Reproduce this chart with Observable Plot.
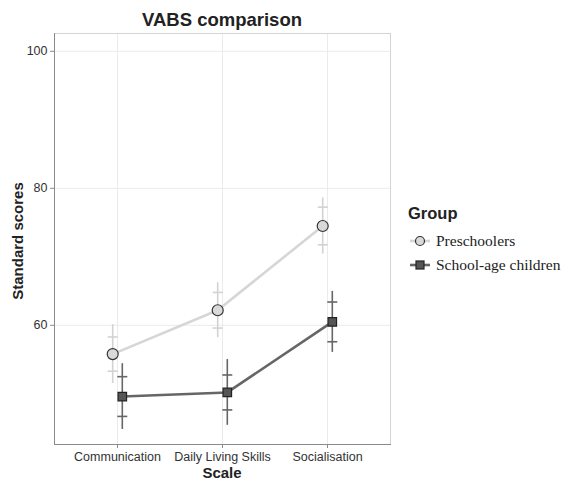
<!DOCTYPE html>
<html><head><meta charset="utf-8">
<script src="https://cdn.jsdelivr.net/npm/d3@7"></script>
<script src="https://cdn.jsdelivr.net/npm/@observablehq/plot@0.6"></script>
<style>
body{margin:0;background:#fff}
#wrap{position:relative;width:562px;height:483px}
</style></head><body><div id="wrap"></div>
<script>
const scales = ["Communication", "Daily Living Skills", "Socialisation"];
const groups = ["Preschoolers", "School-age children"];
const preschoolMean = [55.8, 62.2, 74.5];
const preschoolSE = [2.5, 2.6, 2.75];
const preschoolCI = [4.3, 4.0, 4.1];
const schoolMean = [49.6, 50.2, 60.5];
const schoolSE = [2.9, 2.55, 2.9];
const schoolCI = [4.8, 4.8, 4.45];
const yTicks = [60, 80, 100];
const yDomain = [42.6, 102.6];

const pre = scales.map((s, i) => ({scale: s, group: groups[0], mean: preschoolMean[i], se: preschoolSE[i], ci: preschoolCI[i]}));
const sch = scales.map((s, i) => ({scale: s, group: groups[1], mean: schoolMean[i], se: schoolSE[i], ci: schoolCI[i]}));

const capSymbol = {draw(ctx, size) { const r = Math.sqrt(size / Math.PI); ctx.moveTo(-r, 0); ctx.lineTo(r, 0); }};

const styles = {
  pre: {dx: -4.8, bar: "#d2d2d2", line: "#d6d6d6", fill: "#d9d9d9", stroke: "#333", symbol: "circle", r: 5.5},
  sch: {dx: 4.8, bar: "#666", line: "#666", fill: "#555", stroke: "#222", symbol: "square", r: 4.8}
};

function series(data, st) {
  return [
    Plot.ruleX(data, {x: "scale", y1: d => d.mean - d.ci, y2: d => d.mean + d.ci, dx: st.dx, stroke: st.bar, strokeWidth: 1.6}),
    Plot.dot(data, {x: "scale", y: d => d.mean + d.se, dx: st.dx, symbol: capSymbol, r: 5, fill: "none", stroke: st.bar, strokeWidth: 1.6}),
    Plot.dot(data, {x: "scale", y: d => d.mean - d.se, dx: st.dx, symbol: capSymbol, r: 5, fill: "none", stroke: st.bar, strokeWidth: 1.6}),
    Plot.line(data, {x: "scale", y: "mean", dx: st.dx, stroke: st.line, strokeWidth: 2.6}),
    Plot.dot(data, {x: "scale", y: "mean", dx: st.dx, symbol: st.symbol, r: st.r, fill: st.fill, stroke: st.stroke, strokeWidth: 1.2})
  ];
}

const svg = Plot.plot({
  width: 562, height: 483,
  marginLeft: 54, marginRight: 172, marginTop: 33, marginBottom: 39,
  style: {fontFamily: "'Liberation Sans', Arial, sans-serif", fontSize: "12.5px", background: "#fff"},
  x: {type: "point", domain: scales, padding: 0.6},
  y: {domain: yDomain},
  marks: [
    Plot.gridY(yTicks, {stroke: "#ebebeb", strokeOpacity: 1}),
    Plot.gridX(scales, {stroke: "#ebebeb", strokeOpacity: 1}),
    Plot.frame({stroke: "#d4d4d4"}),
    Plot.frame({anchor: "left", stroke: "#8a8a8a"}),
    Plot.frame({anchor: "bottom", stroke: "#8a8a8a"}),
    Plot.axisY(yTicks, {tickSize: 4, tickPadding: 3, stroke: "#8a8a8a", fill: "#333", label: null}),
    Plot.axisX(scales, {tickSize: 4, tickPadding: 4, stroke: "#8a8a8a", fill: "#333", label: null}),
    ...series(pre, styles.pre),
    ...series(sch, styles.sch)
  ]
});
document.getElementById("wrap").appendChild(svg);

const s = d3.select(svg);
const sans = "'Liberation Sans', Arial, sans-serif";
s.append("text").attr("x", 222).attr("y", 26).attr("text-anchor", "middle")
  .attr("font-family", sans).attr("font-size", 18.5).attr("font-weight", "bold").attr("fill", "#222").text("VABS comparison");
s.append("text").attr("x", 222).attr("y", 478).attr("text-anchor", "middle")
  .attr("font-family", sans).attr("font-size", 15).attr("font-weight", "bold").attr("fill", "#222").text("Scale");
s.append("text").attr("transform", "translate(23,241) rotate(-90)").attr("text-anchor", "middle")
  .attr("font-family", sans).attr("font-size", 15).attr("font-weight", "bold").attr("fill", "#222").text("Standard scores");

// legend
s.append("text").attr("x", 408).attr("y", 219).attr("text-anchor", "start").attr("font-family", sans).attr("font-size", 16.5)
  .attr("font-weight", "bold").attr("fill", "#222").text("Group");
[[styles.pre, 241], [styles.sch, 265]].forEach(([st, y], i) => {
  const g = s.append("g");
  g.append("line").attr("x1", 410).attr("x2", 430).attr("y1", y).attr("y2", y).attr("stroke", st.line).attr("stroke-width", 2.6);
  if (st.symbol === "circle") g.append("circle").attr("cx", 420).attr("cy", y).attr("r", 4.5).attr("fill", st.fill).attr("stroke", st.stroke).attr("stroke-width", 1.2);
  else g.append("rect").attr("x", 416).attr("y", y - 4).attr("width", 8).attr("height", 8).attr("fill", st.fill).attr("stroke", st.stroke).attr("stroke-width", 1.2);
  g.append("text").attr("x", 436).attr("y", y + 5).attr("text-anchor", "start").attr("font-family", "'Liberation Serif', 'Times New Roman', serif")
    .attr("font-size", 15.5).attr("fill", "#222").text(groups[i]);
});
</script></body></html>
